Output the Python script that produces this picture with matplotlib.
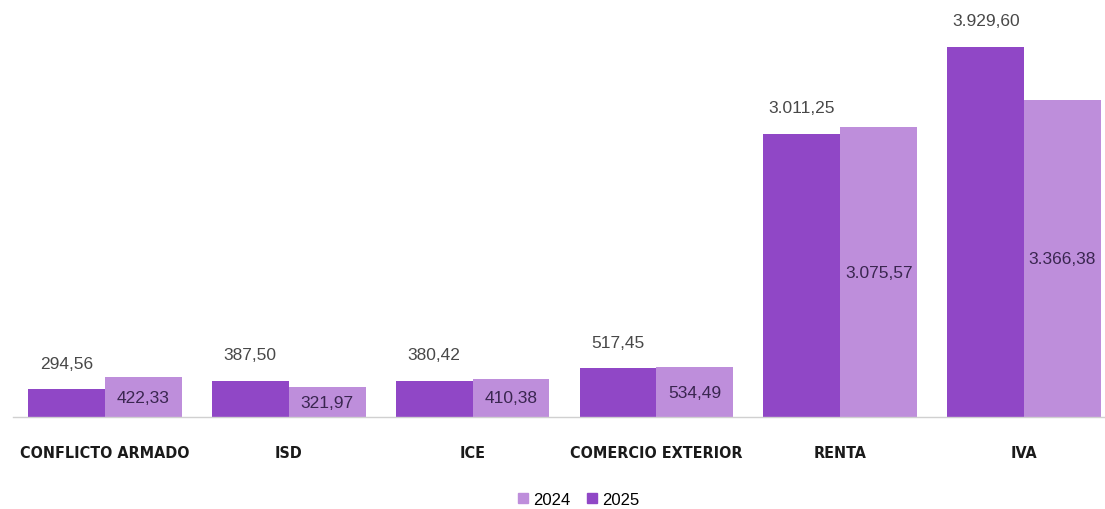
import numpy as np
import matplotlib.pyplot as plt
from matplotlib.patches import Patch

# data
categorias = ['CONFLICTO ARMADO', 'ISD', 'ICE', 'COMERCIO EXTERIOR', 'RENTA', 'IVA']
v2025 = [294.56, 387.50, 380.42, 517.45, 3011.25, 3929.60]
v2024 = [422.33, 321.97, 410.38, 534.49, 3075.57, 3366.38]

col25 = '#9047C6'
col24 = '#BE8EDB'


def fmt(v):
    # formato europeo: 3.011,25
    s = '{:,.2f}'.format(v)
    return s.replace(',', 'X').replace('.', ',').replace('X', '.')


fig = plt.figure(figsize=(11.05, 5.10), dpi=100)
ax = fig.add_axes([13 / 1105, 0.18, 1 - 13 / 1105, 0.82])

x = np.arange(len(categorias))
w = 0.418
b25 = ax.bar(x - w / 2, v2025, w, color=col25, edgecolor='none')
b24 = ax.bar(x + w / 2, v2024, w, color=col24, edgecolor='none')

numfont = ['Liberation Sans', 'DejaVu Sans']

for r, v in zip(b25, v2025):
    ax.annotate(fmt(v), (r.get_x() + r.get_width() / 2, r.get_height()),
                xytext=(0, 19), textcoords='offset points', ha='center', va='center',
                fontsize=12.5, color='#484848', family=numfont)

for r, v in zip(b24, v2024):
    ax.text(r.get_x() + r.get_width() / 2, r.get_height() / 2, fmt(v),
            ha='center', va='center', fontsize=12.5, color='#3A2650', family=numfont)

ax.set_xlim(-0.5, 5.44)
ax.set_ylim(0, 4439)
ax.set_xticks(x)
ax.set_xticklabels(categorias)
for t in ax.get_xticklabels():
    t.set_family('DejaVu Sans')
    t.set_fontstretch('condensed')
    t.set_fontweight('bold')
    t.set_fontsize(11.5)
    t.set_color('#1a1a1a')
ax.tick_params(axis='x', length=0, pad=20)
ax.set_yticks([])
for s in ['top', 'right', 'left']:
    ax.spines[s].set_visible(False)
ax.spines['bottom'].set_color('#d0d0d0')
ax.spines['bottom'].set_linewidth(1)

handles = [Patch(color=col24, label='2024'), Patch(color=col25, label='2025')]
fig.legend(handles=handles, loc='lower center', bbox_to_anchor=(0.524, -0.025), ncol=2,
           frameon=False, handlelength=0.6, handleheight=0.6, handletextpad=0.3,
           columnspacing=1.0, prop={'family': numfont, 'size': 12})

fig.savefig('out.png', dpi=100)
